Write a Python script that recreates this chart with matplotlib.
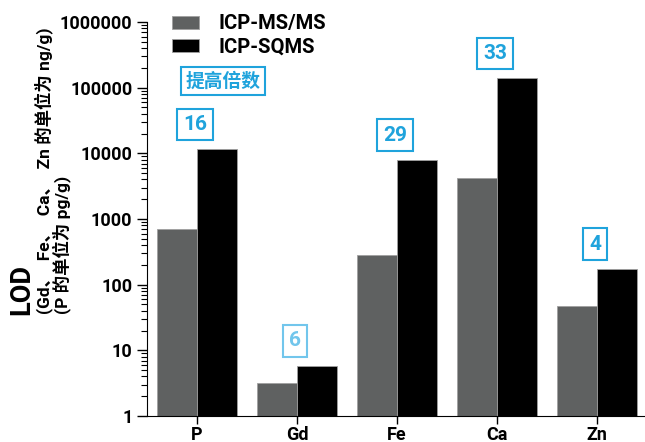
import matplotlib
matplotlib.use("Agg")
import matplotlib.pyplot as plt
import numpy as np

# data
elements = ["P", "Gd", "Fe", "Ca", "Zn"]
lod_msms = [700, 3.2, 280, 4200, 48]
lod_sqms = [11500, 5.8, 7900, 139000, 172]
factors = ["16", "6", "29", "33", "4"]

plt.rcParams['font.family'] = ['Roboto', 'Noto Sans CJK SC', 'DejaVu Sans']
plt.rcParams['font.weight'] = 'bold'

fig = plt.figure(figsize=(6.45, 4.42), dpi=100)
ax = fig.add_axes([147/645, 26/442, 498/645, 394/442])

x = np.arange(len(elements))
w = 0.4
ax.bar(x - w/2, lod_msms, w, color='#5f6161', edgecolor='#a0a0a0', linewidth=0.6, label='ICP-MS/MS')
ax.bar(x + w/2, lod_sqms, w, color='#000000', edgecolor='#a0a0a0', linewidth=0.6, label='ICP-SQMS')

ax.set_yscale('log')
ax.set_ylim(1, 1e6)
ax.set_xlim(-0.5, 4.48)
ax.set_yticks([1, 10, 100, 1000, 10000, 100000, 1000000])
ax.set_yticklabels(["1", "10", "100", "1000", "10000", "100000", "1000000"])
ax.set_xticks(x)
ax.set_xticklabels(elements)
ax.tick_params(axis='y', labelsize=13, length=7, width=1)
ax.tick_params(axis='y', which='minor', length=4, width=0.8)
ax.tick_params(axis='x', labelsize=13, length=6, width=1, pad=1)
for s in ['top', 'right']:
    ax.spines[s].set_visible(False)

blue = '#1fa3dc'
light = '#72c6ec'
for i in range(len(elements)):
    c = light if elements[i] == "Gd" else blue
    ax.annotate(factors[i], (x[i], lod_sqms[i]), xytext=(-2, 25), textcoords='offset pixels',
                ha='center', va='center', fontsize=15, fontweight='bold', color=c,
                bbox=dict(boxstyle='square,pad=0.3', fc='white', ec=c, lw=1.5))

ax.text(0.153, 0.85, "提高倍数", transform=ax.transAxes, ha='center', va='center',
        fontsize=13.5, fontweight='bold', color=blue,
        bbox=dict(boxstyle='square,pad=0.25', fc='white', ec=blue, lw=1.5))

ax.legend(loc='upper left', bbox_to_anchor=(0.03, 1.045), frameon=False, fontsize=14.5,
          handlelength=1.35, handleheight=0.65, handletextpad=0.95, labelspacing=0.22, borderpad=0)

fig.text(22/645, 1 - 315/442, "LOD", rotation=90, ha='center', va='bottom', fontsize=19.5, fontweight='bold')
fig.text(44/645, 1 - 314/442, "(Gd、  Fe、  Ca、  Zn 的单位为 ng/g)", rotation=90, ha='center', va='bottom',
         fontsize=12.5, fontweight='bold')
fig.text(62/645, 1 - 314/442, "(P 的单位为 pg/g)", rotation=90, ha='center', va='bottom',
         fontsize=12.5, fontweight='bold')

fig.savefig("out.png", dpi=100)
